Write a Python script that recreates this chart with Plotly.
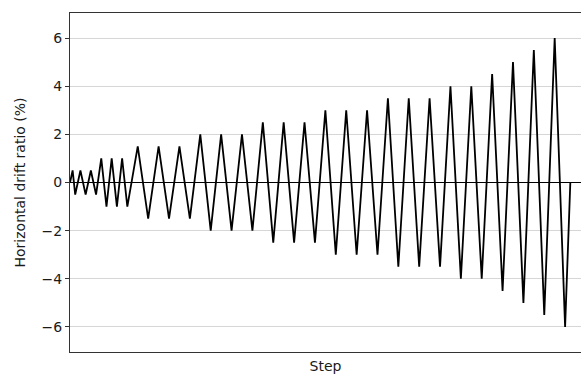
import plotly.graph_objects as go

# Loading protocol: step index (half-step units) and horizontal drift ratio (%)
step = [0, 1, 2, 4, 6, 8, 10, 12, 14, 16, 18, 20, 22,
        26, 30, 34, 38, 42, 46, 50, 54, 58, 62, 66, 70,
        74, 78, 82, 86, 90, 94, 98, 102, 106, 110, 114, 118,
        122, 126, 130, 134, 138, 142, 146, 150, 154, 158,
        162, 166, 170, 174, 178, 182, 186, 190, 192]
drift = [0, 0.5, -0.5, 0.5, -0.5, 0.5, -0.5, 1, -1, 1, -1, 1, -1,
         1.5, -1.5, 1.5, -1.5, 1.5, -1.5, 2, -2, 2, -2, 2, -2,
         2.5, -2.5, 2.5, -2.5, 2.5, -2.5, 3, -3, 3, -3, 3, -3,
         3.5, -3.5, 3.5, -3.5, 3.5, -3.5, 4, -4, 4, -4,
         4.5, -4.5, 5, -5, 5.5, -5.5, 6, -6, 0]
y_ticks = [-6, -4, -2, 0, 2, 4, 6]

FONT = "DejaVu Sans"

fig = go.Figure()
fig.add_trace(go.Scatter(
    x=step, y=drift, mode="lines",
    line=dict(color="black", width=1.8),
    showlegend=False, hoverinfo="skip",
))

fig.update_layout(
    width=581, height=374,
    margin=dict(l=70, r=0, t=13, b=22),
    paper_bgcolor="white", plot_bgcolor="white",
    font=dict(family=FONT, size=14, color="#1a1a1a"),
)
fig.update_xaxes(
    range=[0, 196.1],
    showline=True, mirror=True, linecolor="#333333", linewidth=1,
    showgrid=False, zeroline=False,
    showticklabels=False, ticks="",
    title=dict(text="Step", standoff=9, font=dict(size=14)),
    automargin=False,
)
fig.update_yaxes(
    range=[-7.04, 7.04],
    tickvals=y_ticks, ticktext=[str(v) if v >= 0 else "\u2212" + str(-v) for v in y_ticks],
    ticks="outside", ticklen=4, tickcolor="#333333", tickwidth=1,
    tickfont=dict(size=14),
    showline=True, mirror=False, linecolor="#333333", linewidth=1,
    showgrid=True, gridcolor="#d6d6d6", gridwidth=1,
    zeroline=True, zerolinecolor="black", zerolinewidth=1.3,
    title=dict(text="Horizontal drift ratio (%)", standoff=12, font=dict(size=14)),
    automargin=False,
)

fig.write_html(
    "out.html",
    config={"displayModeBar": False},
    post_script="document.body.style.margin='0';document.body.style.overflow='hidden';",
)
